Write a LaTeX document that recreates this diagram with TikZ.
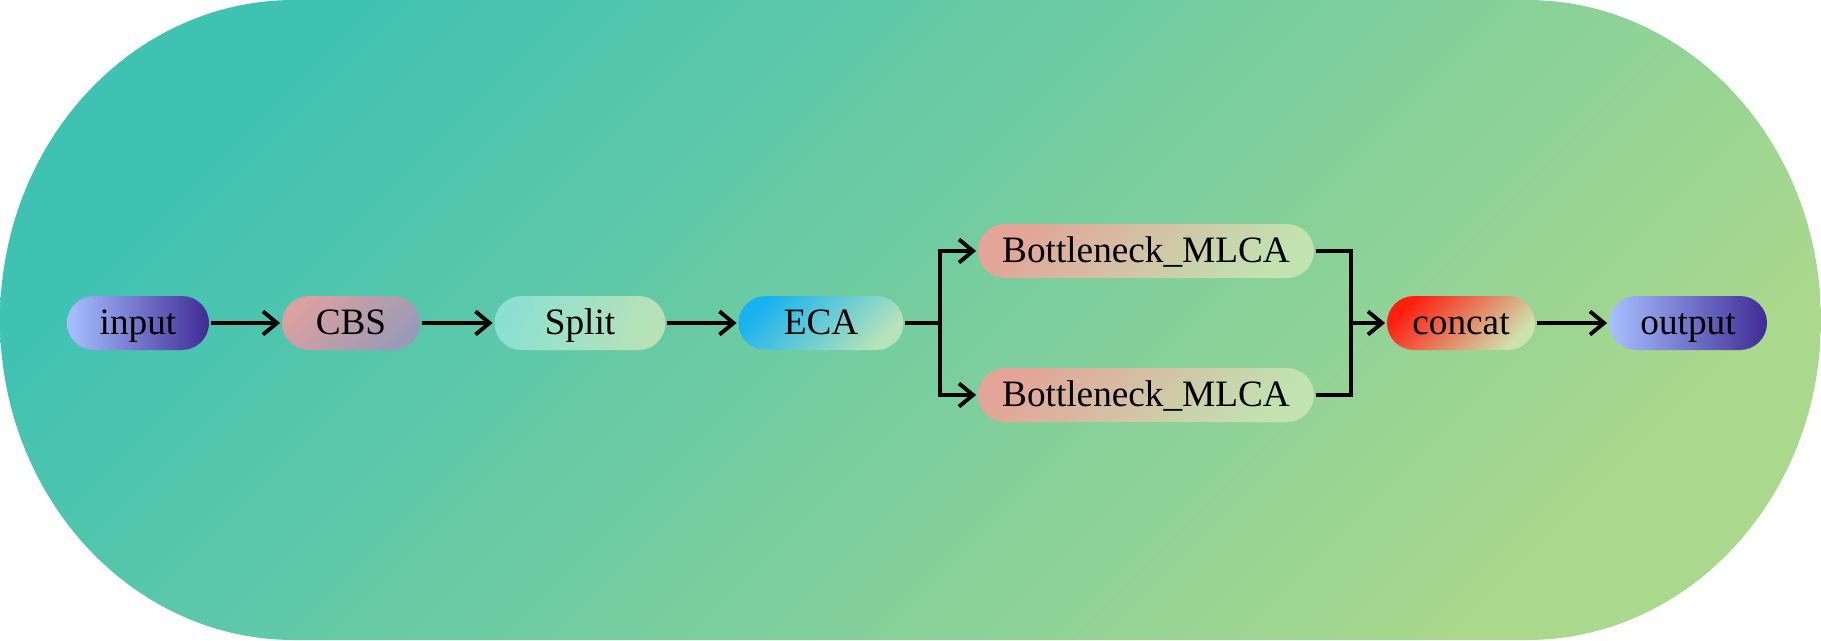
\documentclass[tikz,border=0pt]{standalone}
\usepackage{fontspec}
\setmainfont{Liberation Serif}
\usetikzlibrary{arrows.meta}

\definecolor{bgA}{HTML}{40C2B3}
\definecolor{bgB}{HTML}{AAD88D}
\definecolor{ioA}{HTML}{A8C0FF}
\definecolor{ioB}{HTML}{3F2B96}
\definecolor{cbsA}{HTML}{DBA0A0}
\definecolor{cbsB}{HTML}{9A9BB8}
\definecolor{splA}{HTML}{8CE0D2}
\definecolor{splB}{HTML}{B8E2B6}
\definecolor{ecaA}{HTML}{18B2F0}
\definecolor{ecaB}{HTML}{B6E3BA}
\definecolor{bnA}{HTML}{E2A598}
\definecolor{bnB}{HTML}{C2E3B0}
\definecolor{catA}{HTML}{FF1E10}
\definecolor{catB}{HTML}{CCE2AE}

\begin{document}
\begin{tikzpicture}[
    blk/.style={rounded corners=0.27cm, minimum height=0.54cm, inner sep=0pt,
      text height=0.75em, text depth=0.09em, font=\fontsize{10.6}{12}\selectfont},
    io/.style={blk, left color=ioA, right color=ioB},
    diag/.style 2 args={blk, top color=#1, bottom color=#2, shading angle=45},
    arr/.style={-{Straight Barb[length=4pt,width=6.6pt]}},
    line width=1.1pt
  ]
  \useasboundingbox (0,0) rectangle (18.21,6.40);
  % Background
  \shade[top color=bgA, bottom color=bgB, shading angle=45]
    (2.94,0) -- (15.27,0)
    arc[start angle=-90, end angle=90, x radius=2.94, y radius=3.2]
    -- (2.94,6.4)
    arc[start angle=90, end angle=270, x radius=2.94, y radius=3.2] -- cycle;

  % Main row
  \node[io, minimum width=1.42cm] (in) at (1.38,3.17) {input};
  \node[diag={cbsA}{cbsB}, minimum width=1.38cm] (cbs) at (3.51,3.17) {CBS};
  \node[diag={splA}{splB}, shading angle=70, minimum width=1.71cm] (split) at (5.80,3.17) {Split};
  \node[diag={ecaA}{ecaB}, minimum width=1.65cm] (eca) at (8.21,3.17) {ECA};
  % Branches
  \node[diag={bnA}{bnB}, minimum width=3.36cm] (bn1) at (11.46,3.89) {Bottleneck\_MLCA};
  \node[diag={bnA}{bnB}, minimum width=3.36cm] (bn2) at (11.46,2.45) {Bottleneck\_MLCA};
  \node[diag={catA}{catB}, minimum width=1.48cm] (cat) at (14.61,3.17) {concat};
  \node[io, minimum width=1.58cm] (out) at (16.88,3.17) {output};

  \coordinate (fork) at (9.40,3.17);
  \coordinate (join) at (13.51,3.17);

  % Edges
  \draw[arr] (in) -- (cbs);
  \draw[arr] (cbs) -- (split);
  \draw[arr] (split) -- (eca);
  \draw (eca) -- (fork);
  \draw[arr] (fork) |- (bn1);
  \draw[arr] (fork) |- (bn2);
  \draw (bn1) -| (join);
  \draw (bn2) -| (join);
  \draw[arr] (join) -- (cat);
  \draw[arr] (cat) -- (out);
\end{tikzpicture}
\end{document}
